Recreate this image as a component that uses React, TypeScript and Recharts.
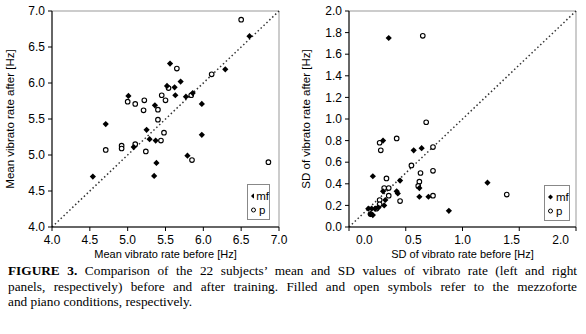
import React from 'react';
import { ScatterChart, Scatter, XAxis, YAxis, ReferenceLine, ReferenceArea, Legend, Label } from 'recharts';

const mfMeanBefore = [6.61, 6.29, 5.56, 5.70, 5.52, 5.62, 5.63, 5.77, 5.86, 5.98, 5.01, 5.36, 4.71, 5.25, 5.29, 5.37, 5.08, 5.38, 5.35, 4.54, 5.79, 5.98];
const mfMeanAfter = [6.65, 6.19, 6.27, 6.02, 5.96, 5.94, 5.83, 5.81, 5.86, 5.71, 5.82, 5.69, 5.43, 5.35, 5.22, 5.20, 5.11, 4.89, 4.71, 4.70, 4.99, 5.28];
const pMeanBefore = [6.50, 6.11, 5.65, 5.54, 5.45, 5.50, 5.84, 5.00, 5.10, 5.22, 5.21, 5.40, 5.40, 5.48, 5.44, 4.71, 4.92, 4.92, 5.10, 5.24, 5.85, 6.86];
const pMeanAfter = [6.88, 6.12, 6.20, 5.93, 5.83, 5.76, 5.83, 5.74, 5.71, 5.76, 5.62, 5.63, 5.49, 5.31, 5.20, 5.07, 5.13, 5.09, 5.15, 5.05, 4.93, 4.90];

const mfSdBefore = [0.35, 0.30, 0.57, 0.64, 0.21, 0.45, 0.62, 0.30, 0.42, 0.43, 0.32, 0.31, 0.62, 0.70, 0.88, 1.22, 0.20, 0.23, 0.26, 0.19, 0.21, 0.17];
const mfSdAfter = [1.75, 0.80, 0.71, 0.73, 0.47, 0.43, 0.36, 0.33, 0.33, 0.31, 0.25, 0.20, 0.28, 0.28, 0.15, 0.41, 0.17, 0.17, 0.18, 0.12, 0.11, 0.17];
const pSdBefore = [0.65, 0.68, 0.27, 0.28, 0.42, 0.74, 0.55, 0.63, 0.74, 0.33, 0.62, 0.61, 0.31, 0.35, 0.35, 0.45, 0.27, 0.74, 1.39, 0.27, 0.24, 0.19];
const pSdAfter = [1.77, 0.97, 0.78, 0.71, 0.82, 0.74, 0.57, 0.50, 0.52, 0.45, 0.42, 0.38, 0.36, 0.36, 0.29, 0.24, 0.25, 0.29, 0.30, 0.21, 0.17, 0.12];

const meanTicks = [4.0, 4.5, 5.0, 5.5, 6.0, 6.5, 7.0];
const sdYTicks = [0.0, 0.2, 0.4, 0.6, 0.8, 1.0, 1.2, 1.4, 1.6, 1.8, 2.0];
const sdXTicks = [0.0, 0.5, 1.0, 1.5, 2.0];

const seriesNames = ['mf', 'p'];

const captionLines = [
  'Comparison of the 22 subjects\u2019 mean and SD values of vibrato rate (left and right',
  'panels, respectively) before and after training. Filled and open symbols refer to the mezzoforte',
  'and piano conditions, respectively.',
];

const zip = (xs: number[], ys: number[]) => xs.map((x, i) => ({ x, y: ys[i] }));

const FONT = '"Liberation Sans", Arial, Helvetica, sans-serif';

const Diamond = (props: any) => {
  const { cx, cy } = props;
  if (cx == null || cy == null) return null;
  const r = 3.1;
  return <polygon points={`${cx},${cy - r} ${cx + r},${cy} ${cx},${cy + r} ${cx - r},${cy}`} fill="#000" />;
};

const OpenCircle = (props: any) => {
  const { cx, cy } = props;
  if (cx == null || cy == null) return null;
  return <circle cx={cx} cy={cy} r={2.3} fill="#fff" stroke="#000" strokeWidth={1.1} />;
};

const LegendBox = (props: any) => {
  const items = [...(props.payload || [])].sort(
    (a: any, b: any) => seriesNames.indexOf(a.value) - seriesNames.indexOf(b.value)
  );
  return (
    <div
      style={{
        border: '1px solid #888',
        background: '#fff',
        boxSizing: 'border-box',
        width: '100%',
        height: '100%',
        padding: '4px 0 0 2px',
        fontFamily: FONT,
        fontSize: 11.5,
        lineHeight: '14px',
        color: '#000',
      }}
    >
      {items.map((it: any) => (
        <div key={it.value} style={{ display: 'flex', alignItems: 'center', whiteSpace: 'nowrap' }}>
          <svg width={7} height={8} style={{ marginRight: 2 }}>
            {it.value === 'mf' ? (
              <polygon points="3.5,1.5 6,4 3.5,6.5 1,4" fill="#000" />
            ) : (
              <circle cx={3.5} cy={4} r={2} fill="#fff" stroke="#000" strokeWidth={1} />
            )}
          </svg>
          <span>{it.value}</span>
        </div>
      ))}
    </div>
  );
};

const makeTick = (center: number, squeeze: number) => (props: any) => {
  const { x, y, payload } = props;
  const lx = x + (center - x) * squeeze;
  return (
    <text x={lx} y={y} dy="0.71em" textAnchor="middle" fontSize={12} fill="#000" fontFamily={FONT}>
      {Number(payload.value).toFixed(1)}
    </text>
  );
};

type PanelProps = {
  left: number;
  mf: { x: number; y: number }[];
  p: { x: number; y: number }[];
  xDomain: [number, number];
  yDomain: [number, number];
  xTicks: number[];
  yTicks: number[];
  xTitle: string;
  yTitle: string;
  yAxisWidth: number;
  yTitleOffset: number;
  rightMargin: number;
  squeeze: number;
  legendPos: { left: number; top: number; width: number; height: number };
};

const Panel = (pp: PanelProps) => {
  const tickStyle = { fontSize: 12, fill: '#000', fontFamily: FONT };
  const center = pp.yAxisWidth + (290 - pp.yAxisWidth - pp.rightMargin) / 2;
  return (
    <div style={{ position: 'absolute', left: pp.left, top: 0 }}>
      <ScatterChart width={290} height={266} margin={{ top: 11, right: pp.rightMargin, bottom: 0, left: 0 }}>
        <ReferenceArea
          x1={pp.xDomain[0]}
          x2={pp.xDomain[1]}
          y1={pp.yDomain[0]}
          y2={pp.yDomain[1]}
          fill="none"
          stroke="#999"
          strokeWidth={1}
        />
        <XAxis
          type="number"
          dataKey="x"
          domain={pp.xDomain}
          ticks={pp.xTicks}
          interval={0}
          allowDataOverflow
          height={39}
          tickSize={4}
          tickMargin={4}
          tick={makeTick(center, pp.squeeze)}
          axisLine={{ stroke: '#000' }}
          tickLine={{ stroke: '#000' }}
        >
          <Label
            value={pp.xTitle}
            position="insideBottom"
            offset={8}
            style={{ fontSize: 11, fill: '#000', fontFamily: FONT }}
          />
        </XAxis>
        <YAxis
          type="number"
          dataKey="y"
          domain={pp.yDomain}
          ticks={pp.yTicks}
          interval={0}
          allowDataOverflow
          width={pp.yAxisWidth}
          tickSize={4}
          tickMargin={3}
          tick={tickStyle}
          tickFormatter={(v: number) => v.toFixed(1)}
          axisLine={{ stroke: '#000' }}
          tickLine={{ stroke: '#000' }}
        >
          <Label
            value={pp.yTitle}
            angle={-90}
            position="insideLeft"
            offset={pp.yTitleOffset}
            dx={-4}
            style={{ fontSize: 11.5, fill: '#000', fontFamily: FONT, textAnchor: 'middle' }}
          />
        </YAxis>
        <ReferenceLine
          segment={[
            { x: pp.xDomain[0], y: pp.yDomain[0] },
            { x: pp.xDomain[1], y: pp.yDomain[1] },
          ]}
          stroke="#333"
          strokeWidth={1.5}
          strokeDasharray="1.5 2.5"
        />
        <Scatter name="p" data={pp.p} fill="#fff" stroke="#000" shape={OpenCircle} isAnimationActive={false} />
        <Scatter name="mf" data={pp.mf} fill="#000" shape={Diamond} isAnimationActive={false} />
        <Legend
          layout="vertical"
          align="center"
          verticalAlign="middle"
          content={LegendBox}
          wrapperStyle={{ ...pp.legendPos, position: 'absolute' }}
        />
      </ScatterChart>
    </div>
  );
};

export default function App() {
  return (
    <div style={{ position: 'fixed', left: 0, top: 0, width: 586, height: 334, background: '#fff', overflow: 'hidden' }}>
      <Panel
        left={0}
        mf={zip(mfMeanBefore, mfMeanAfter)}
        p={zip(pMeanBefore, pMeanAfter)}
        xDomain={[4, 7]}
        yDomain={[4, 7]}
        xTicks={meanTicks}
        yTicks={meanTicks}
        xTitle="Mean vibrato rate before [Hz]"
        yTitle="Mean vibrato rate after [Hz]"
        yAxisWidth={52}
        yTitleOffset={14}
        rightMargin={11}
        squeeze={0}
        legendPos={{ left: 247, top: 184, width: 23, height: 36 }}
      />
      <Panel
        left={290}
        mf={zip(mfSdBefore, mfSdAfter)}
        p={zip(pSdBefore, pSdAfter)}
        xDomain={[0, 2]}
        yDomain={[0, 2]}
        xTicks={sdXTicks}
        yTicks={sdYTicks}
        xTitle="SD of vibrato rate before [Hz]"
        yTitle="SD of vibrato rate after [Hz]"
        yAxisWidth={59}
        yTitleOffset={20}
        rightMargin={4}
        squeeze={0.135}
        legendPos={{ left: 254, top: 185, width: 26, height: 36 }}
      />
      <div
        style={{
          position: 'absolute',
          left: 8,
          top: 263,
          width: 569,
          fontFamily: '"Liberation Serif", "Times New Roman", serif',
          fontSize: 13.3,
          lineHeight: '15.5px',
          color: '#000',
        }}
      >
        {captionLines.map((line, i) => (
          <div
            key={i}
            style={{
              whiteSpace: 'nowrap',
              textAlign: i < captionLines.length - 1 ? 'justify' : 'left',
              textAlignLast: i < captionLines.length - 1 ? 'justify' : 'left',
            } as React.CSSProperties}
          >
            {i === 0 ? <b>FIGURE 3. </b> : null}
            {line}
          </div>
        ))}
      </div>
    </div>
  );
}
